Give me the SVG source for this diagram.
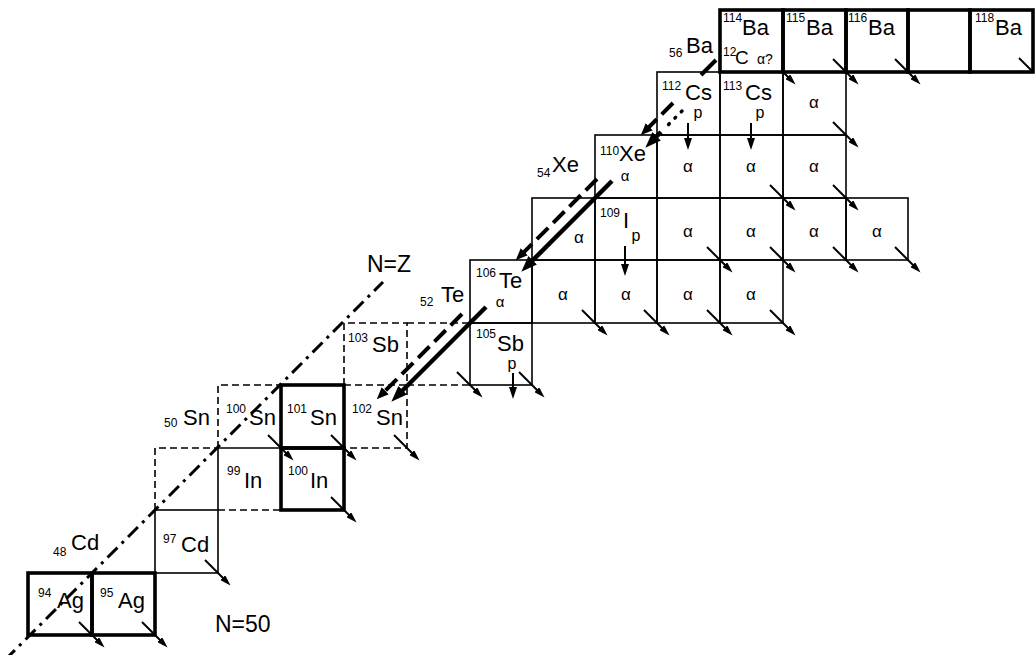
<svg xmlns="http://www.w3.org/2000/svg" width="1036" height="655" viewBox="0 0 1036 655">
<defs>
<style>
.thin{stroke:#000;stroke-width:1.6;fill:none}
.bold{stroke:#000;stroke-width:3.6;fill:none}
.dsh{stroke:#000;stroke-width:1.6;fill:none;stroke-dasharray:7 4}
text{font-family:"Liberation Sans",Arial,sans-serif;fill:#000}
.s{font-size:22px}
.m{font-size:12px}
.a{font-size:17px;text-anchor:middle}
.as{font-size:15px;text-anchor:middle}
.p{font-size:16px;text-anchor:middle}
.lab{font-size:23px}
.dec{stroke:#000;stroke-width:2;fill:none;marker-end:url(#ah)}
.pd{stroke:#000;stroke-width:2;fill:none;marker-end:url(#ph)}
.big{stroke:#000;stroke-width:4.5;fill:none;marker-end:url(#bh)}
.bigd{stroke:#000;stroke-width:4;fill:none;stroke-dasharray:16 7;marker-end:url(#dh)}
.nz{stroke:#000;stroke-width:3;fill:none;stroke-dasharray:14 6 3 6}
</style>
<marker id="ah" markerUnits="userSpaceOnUse" markerWidth="11" markerHeight="7" refX="6" refY="3.5" orient="auto"><path d="M0,0 L11,3.5 L0,7 z" fill="#000"/></marker>
<marker id="ph" markerUnits="userSpaceOnUse" markerWidth="12" markerHeight="8" refX="6" refY="4" orient="auto"><path d="M0,0 L12,4 L0,8 z" fill="#000"/></marker>
<marker id="bh" markerUnits="userSpaceOnUse" markerWidth="16" markerHeight="12" refX="8" refY="6" orient="auto"><path d="M0,0 L16,6 L0,12 z" fill="#000"/></marker>
<marker id="dh" markerUnits="userSpaceOnUse" markerWidth="12" markerHeight="10" refX="6" refY="5" orient="auto"><path d="M0,0 L12,5 L0,10 z" fill="#000"/></marker>
</defs>
<rect x="0" y="0" width="1036" height="655" fill="#fff"/>

<!-- thin cells -->
<g id="Cd97"><rect class="thin" x="155" y="510" width="63" height="63"/><text class="m" x="163" y="543">97</text><text class="s" x="181" y="552">Cd</text></g>
<g id="In98"><path class="dsh" d="M155,510 V448 H218"/></g>
<g id="In99"><path class="thin" d="M218,510 V448 H281"/><path class="dsh" d="M218,510 H281"/><text class="m" x="227" y="475">99</text><text class="s" x="244" y="488">In</text></g>
<g id="Sn100"><path class="dsh" d="M218,448 V385 H281"/><text class="m" x="226" y="413">100</text><text class="s" x="249" y="425">Sn</text></g>
<g id="Sn102"><path class="dsh" d="M344,385 H407 V448 H344"/><text class="m" x="352" y="413">102</text><text class="s" x="376" y="425">Sn</text></g>
<g id="Sb103"><path class="dsh" d="M344,385 V323 H407 V385"/><text class="m" x="348" y="342">103</text><text class="s" x="372" y="352">Sb</text></g>
<g id="Sb104"><path class="dsh" d="M407,323 H470 M407,385 H470"/></g>
<g id="Sb105"><rect class="thin" x="470" y="323" width="62" height="62"/><text class="m" x="476" y="338">105</text><text class="s" x="497" y="351">Sb</text><text class="p" x="512" y="369">p</text></g>
<g id="Te106"><rect class="thin" x="470" y="260" width="62" height="63"/><text class="m" x="476" y="277">106</text><text class="s" x="499" y="288">Te</text><text class="as" x="500" y="307">α</text></g>
<g id="Te107"><rect class="thin" x="532" y="260" width="63" height="63"/><text class="a" x="563" y="300">α</text></g>
<g id="Te108"><rect class="thin" x="595" y="260" width="62" height="63"/><text class="a" x="626" y="300">α</text></g>
<g id="Te109"><rect class="thin" x="657" y="260" width="63" height="63"/><text class="a" x="688" y="300">α</text></g>
<g id="Te110"><rect class="thin" x="720" y="260" width="63" height="63"/><text class="a" x="751" y="300">α</text></g>
<g id="I108"><rect class="thin" x="532" y="198" width="63" height="62"/><text class="a" x="579" y="243">α</text></g>
<g id="I109"><rect class="thin" x="595" y="198" width="62" height="62"/><text class="m" x="600" y="217">109</text><text class="s" x="623" y="228">I</text><text class="p" x="636" y="241">p</text></g>
<g id="I110"><rect class="thin" x="657" y="198" width="63" height="62"/><text class="a" x="688" y="237">α</text></g>
<g id="I111"><rect class="thin" x="720" y="198" width="63" height="62"/><text class="a" x="751" y="237">α</text></g>
<g id="I112"><rect class="thin" x="783" y="198" width="63" height="62"/><text class="a" x="814" y="237">α</text></g>
<g id="I113"><rect class="thin" x="846" y="198" width="62" height="62"/><text class="a" x="877" y="237">α</text></g>
<g id="Xe110"><rect class="thin" x="595" y="135" width="62" height="63"/><text class="m" x="600" y="155">110</text><text class="s" x="619" y="161">Xe</text><text class="as" x="625" y="181">α</text></g>
<g id="Xe111"><rect class="thin" x="657" y="135" width="63" height="63"/><text class="a" x="688" y="172">α</text></g>
<g id="Xe112"><rect class="thin" x="720" y="135" width="63" height="63"/><text class="a" x="751" y="172">α</text></g>
<g id="Xe113"><rect class="thin" x="783" y="135" width="63" height="63"/><text class="a" x="814" y="172">α</text></g>
<g id="Cs112"><rect class="thin" x="657" y="72" width="63" height="63"/><text class="m" x="662" y="90">112</text><text class="s" x="685" y="100">Cs</text><text class="p" x="698" y="118">p</text></g>
<g id="Cs113"><rect class="thin" x="720" y="72" width="63" height="63"/><text class="m" x="723" y="90">113</text><text class="s" x="745" y="100">Cs</text><text class="p" x="760" y="118">p</text></g>
<g id="Cs114"><rect class="thin" x="783" y="72" width="63" height="63"/><text class="a" x="814" y="108">α</text></g>

<!-- bold cells -->
<g id="Ag94"><rect class="bold" x="28" y="573" width="64" height="62"/><text class="m" x="38" y="597">94</text><text class="s" x="57" y="608">Ag</text></g>
<g id="Ag95"><rect class="bold" x="92" y="573" width="63" height="62"/><text class="m" x="100" y="597">95</text><text class="s" x="118" y="608">Ag</text></g>
<g id="In100"><rect class="bold" x="281" y="448" width="63" height="62"/><text class="m" x="288" y="475">100</text><text class="s" x="310" y="488">In</text></g>
<g id="Sn101"><rect class="bold" x="281" y="385" width="63" height="63"/><text class="m" x="287" y="413">101</text><text class="s" x="310" y="425">Sn</text></g>
<g id="Ba114"><rect class="bold" x="720" y="10" width="63" height="62"/><text class="m" x="723" y="22">114</text><text class="s" x="742" y="35">Ba</text><text class="m" x="723" y="56">12</text><text style="font-size:19px" x="735" y="64">C</text><text style="font-size:14px" x="757" y="64">α?</text></g>
<g id="Ba115"><rect class="bold" x="783" y="10" width="63" height="62"/><text class="m" x="786" y="22">115</text><text class="s" x="806" y="35">Ba</text></g>
<g id="Ba116"><rect class="bold" x="846" y="10" width="62" height="62"/><text class="m" x="848" y="22">116</text><text class="s" x="868" y="35">Ba</text></g>
<g id="Ba117"><rect class="bold" x="908" y="10" width="62" height="62"/></g>
<g id="Ba118"><rect class="bold" x="970" y="10" width="63" height="62"/><text class="m" x="975" y="22">118</text><text class="s" x="995" y="35">Ba</text></g>

<!-- row labels -->
<g id="lbl-Cd"><text class="m" x="53" y="556">48</text><text class="s" x="71" y="550">Cd</text></g>
<g id="lbl-Sn"><text class="m" x="164" y="427">50</text><text class="s" x="183" y="425">Sn</text></g>
<g id="lbl-Te"><text class="m" x="420" y="306">52</text><text class="s" x="441" y="302">Te</text></g>
<g id="lbl-Xe"><text class="m" x="537" y="177">54</text><text class="s" x="552" y="172">Xe</text></g>
<g id="lbl-Ba"><text class="m" x="669" y="57">56</text><text class="s" x="686" y="53">Ba</text></g>
<g id="lbl-NZ"><text class="lab" x="367" y="272">N=Z</text></g>
<g id="lbl-N50"><text class="lab" x="215" y="632">N=50</text></g>

<g id="connectors">
<path class="nz" d="M5,660 L383,282"/>
<!-- beta decay arrows -->
<path class="dec" d="M79,622 L101,644"/>
<path class="dec" d="M142,622 L164,644"/>
<path class="dec" d="M205,560 L227,582"/>
<path class="dec" d="M268,435 L290,457"/>
<path class="dec" d="M331,435 L353,457"/>
<path class="dec" d="M394,435 L416,457"/>
<path class="dec" d="M331,497 L353,519"/>
<path class="dec" d="M457,372 L479,394"/>
<path class="dec" d="M519,372 L541,394"/>
<path class="dec" d="M582,310 L604,332"/>
<path class="dec" d="M644,310 L666,332"/>
<path class="dec" d="M707,310 L729,332"/>
<path class="dec" d="M770,310 L792,332"/>
<path class="dec" d="M707,247 L729,269"/>
<path class="dec" d="M770,247 L792,269"/>
<path class="dec" d="M833,247 L855,269"/>
<path class="dec" d="M895,247 L917,269"/>
<path class="dec" d="M770,185 L792,207"/>
<path class="dec" d="M833,185 L855,207"/>
<path class="dec" d="M833,122 L855,144"/>
<path class="dec" d="M783,72 L792,81"/>
<path class="dec" d="M833,59 L855,81"/>
<path class="dec" d="M895,59 L917,81"/>
<path stroke="#000" stroke-width="2" d="M1019,58 L1033,72"/>
<!-- proton decay arrows -->
<path class="pd" d="M513,373 V393"/>
<path class="pd" d="M625,246 V270"/>
<path class="pd" d="M688,123 V144"/>
<path class="pd" d="M751,123 V144"/>
<!-- alpha / cluster chain -->
<path d="M682,111 L664,129" stroke="#000" stroke-width="3.5" stroke-dasharray="1 8" stroke-linecap="round" fill="none"/>
<path class="big" d="M661,132 L651,142"/>
<path class="big" d="M612,181 L527,266"/>
<path class="big" d="M486,307 L397,396"/>
<path stroke="#000" stroke-width="4" fill="none" d="M716,60 L701,75"/>
<path class="bigd" d="M673,103 L645,131"/>
<path class="bigd" d="M597,179 L520,256"/>
<path class="bigd" d="M462,314 L381,395"/>
</g>
</svg>
